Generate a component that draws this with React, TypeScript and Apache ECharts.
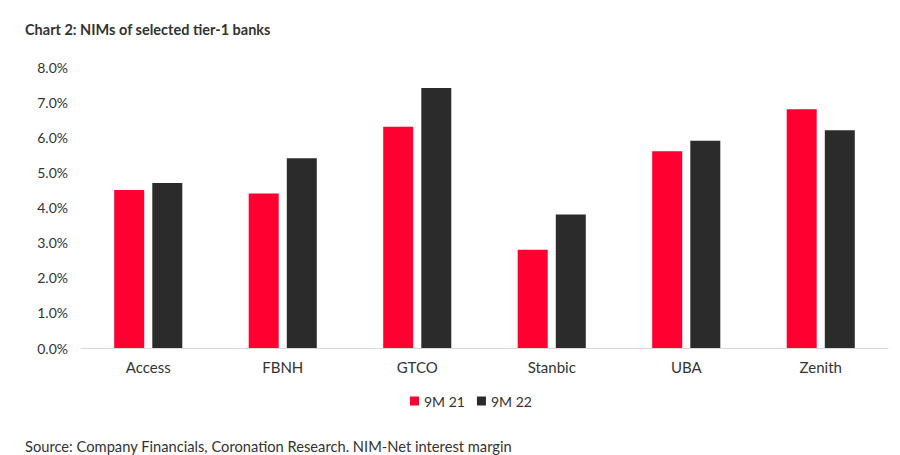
import React, { useEffect, useRef } from "react";
import * as echarts from "echarts";

const categories = ["Access", "FBNH", "GTCO", "Stanbic", "UBA", "Zenith"];
const series9M21 = [4.5, 4.4, 6.3, 2.8, 5.6, 6.8];
const series9M22 = [4.7, 5.4, 7.4, 3.8, 5.9, 6.2];
const seriesNames = ["9M 21", "9M 22"];

export default function App() {
  const ref = useRef<HTMLDivElement>(null);
  useEffect(() => {
    if (!ref.current) return;
    const chart = echarts.init(ref.current, null, { renderer: "svg" });
    const font = "Lato, 'Open Sans', sans-serif";
    chart.setOption({
      animation: false,
      backgroundColor: "#ffffff",
      textStyle: { fontFamily: font },
      title: [
        {
          text: "Chart 2: NIMs of selected tier-1 banks",
          left: 25,
          top: 22,
          padding: 0,
          textStyle: { fontFamily: font, fontSize: 14.5, fontWeight: "bold", color: "#333333" },
        },
        {
          text: "Source: Company Financials, Coronation Research. NIM-Net interest margin",
          left: 25,
          top: 438,
          padding: 0,
          textStyle: { fontFamily: font, fontSize: 14.7, fontWeight: "normal", color: "#333333" },
        },
      ],
      legend: {
        data: seriesNames,
        left: 410,
        top: 394,
        padding: 0,
        itemWidth: 9,
        itemHeight: 9,
        itemGap: 12,
        icon: "rect",
        textStyle: { fontFamily: font, fontSize: 14, color: "#333333" },
      },
      grid: { left: 81, right: 12, top: 67, bottom: 107, containLabel: false },
      xAxis: {
        type: "category",
        data: categories,
        axisLine: { lineStyle: { color: "#d9d9d9", width: 1 } },
        axisTick: { show: false },
        axisLabel: { fontFamily: font, fontSize: 15, color: "#333333", margin: 11 },
      },
      yAxis: {
        type: "value",
        min: 0,
        max: 8,
        interval: 1,
        splitLine: { show: false },
        axisLine: { show: false },
        axisTick: { show: false },
        axisLabel: {
          fontFamily: font,
          fontSize: 14,
          color: "#333333",
          margin: 13,
          formatter: (v: number) => v.toFixed(1) + "%",
        },
      },
      series: [
        {
          name: seriesNames[0],
          type: "bar",
          data: series9M21,
          barWidth: 30,
          barGap: "27%",
          itemStyle: { color: "#ff0030" },
        },
        {
          name: seriesNames[1],
          type: "bar",
          data: series9M22,
          barWidth: 30,
          barGap: "27%",
          itemStyle: { color: "#2b2b2b" },
        },
      ],
    });
    return () => chart.dispose();
  }, []);
  return (
    <div
      ref={ref}
      style={{ position: "fixed", left: 0, top: 0, width: 900, height: 455 }}
    />
  );
}
